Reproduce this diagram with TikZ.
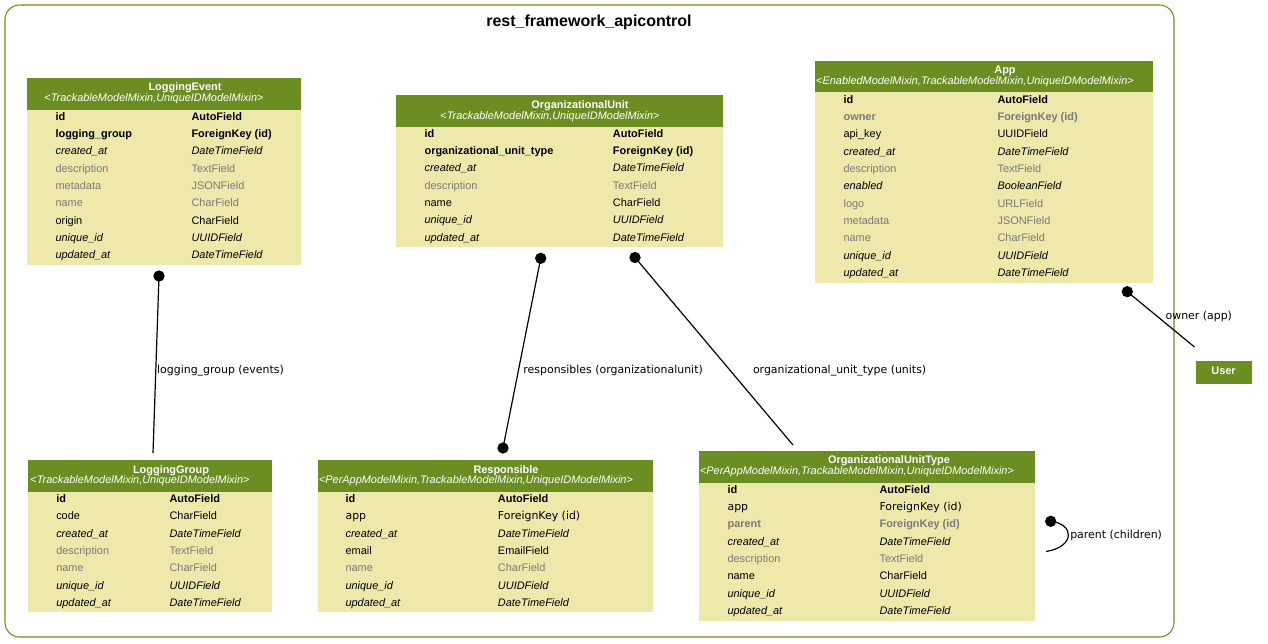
\documentclass[tikz,border=0pt]{standalone}
\usepackage{fontspec}
\setmainfont{Liberation Sans}
\newfontfamily\dejavu{DejaVu Sans}
\usepackage{tikz}
\usetikzlibrary{matrix,fit,positioning}

\definecolor{hdrgreen}{HTML}{6B8E23}
\definecolor{bodyyellow}{HTML}{EEE8AA}
\definecolor{nullgray}{HTML}{7B7B7B}

\newcommand\rowfont{\fontsize{8.2}{9.8}\selectfont}

\begin{document}
\begin{tikzpicture}[x=0.75pt,y=-0.75pt,
		cluster/.style={draw=hdrgreen,line width=0.8pt,rounded corners=11pt,inner sep=0pt},
		tblbody/.style={fill=bodyyellow,inner sep=0pt},
		tblhead/.style={fill=hdrgreen,inner sep=0pt},
		title/.style={text=white,font=\rowfont\bfseries,inner sep=0pt,anchor=base,yshift=-2.9pt},
		mixins/.style={text=white,font=\rowfont,inner sep=0pt,anchor=base,yshift=-2.8pt},
		fields/.style={matrix of nodes,inner sep=0pt,row sep={13pt,between origins},
			nodes={anchor=base west,inner sep=0pt,font=\rowfont}},
		fb/.style={font=\rowfont\bfseries},
		fi/.style={font=\rowfont\itshape},
		fn/.style={text=nullgray},
		fnb/.style={text=nullgray,font=\rowfont\bfseries},
		fdv/.style={font=\rowfont\dejavu},
		dot/.style={circle,fill=black,inner sep=0pt,minimum size=8.5pt},
		rel/.style={draw=black,line width=0.9pt},
		lbl/.style={font=\rowfont\dejavu,inner sep=0pt}]
	\useasboundingbox (0,0) rectangle (1268,643);
	
	\node[cluster,fit={(5,5) (1174,637)}] (cl) {};
	\node[font=\fontsize{12}{14}\selectfont\bfseries] (cl-title) at (589,22) {rest\_framework\_apicontrol};
	
	% LoggingEvent
	\node[tblhead,fit={(27,77.5) (301,109.5)}] (le-head) {};
	\node[tblbody,fit={(27,109.5) (301,264.5)}] (le) {};
	\node[title] (le-title) at (185,87) {LoggingEvent};
	\node[mixins] (le-mix) at (154,97.5) {<\textit{TrackableModelMixin,UniqueIDModelMixin}>};
	\matrix (le-f) [fields,column sep={102pt,between origins},matrix anchor=le-f-1-1.base west] at (55.3,120.3)
	{
		|[fb]| id & |[fb]| AutoField \\
		|[fb]| logging\_group & |[fb]| ForeignKey (id) \\
		|[fi]| created\_at & |[fi]| DateTimeField \\
		|[fn]| description & |[fn]| TextField \\
		|[fn]| metadata & |[fn]| JSONField \\
		|[fn]| name & |[fn]| CharField \\
		origin & CharField \\
		|[fi]| unique\_id & |[fi]| UUIDField \\
		|[fi]| updated\_at & |[fi]| DateTimeField \\};
	
	% OrganizationalUnit
	\node[tblhead,fit={(395.5,95) (722.5,127)}] (ou-head) {};
	\node[tblbody,fit={(395.5,127) (722.5,247.3)}] (ou) {};
	\node[title] (ou-title) at (580,104.5) {OrganizationalUnit};
	\node[mixins] (ou-mix) at (550,115.5) {<\textit{TrackableModelMixin,UniqueIDModelMixin}>};
	\matrix (ou-f) [fields,column sep={141.3pt,between origins},matrix anchor=ou-f-1-1.base west] at (424.3,137)
	{
		|[fb]| id & |[fb]| AutoField \\
		|[fb]| organizational\_unit\_type & |[fb]| ForeignKey (id) \\
		|[fi]| created\_at & |[fi]| DateTimeField \\
		|[fn]| description & |[fn]| TextField \\
		name & CharField \\
		|[fi]| unique\_id & |[fi]| UUIDField \\
		|[fi]| updated\_at & |[fi]| DateTimeField \\};
	
	% App
	\node[tblhead,fit={(814.5,60.5) (1153.3,92)}] (app-head) {};
	\node[tblbody,fit={(814.5,92) (1153.3,282.7)}] (app) {};
	\node[title] (app-title) at (1005,69.5) {App};
	\node[mixins] (app-mix) at (975,80.3) {<\textit{EnabledModelMixin,TrackableModelMixin,UniqueIDModelMixin}>};
	\matrix (app-f) [fields,column sep={115.5pt,between origins},matrix anchor=app-f-1-1.base west] at (843.3,103.2)
	{
		|[fb]| id & |[fb]| AutoField \\
		|[fnb]| owner & |[fnb]| ForeignKey (id) \\
		api\_key & UUIDField \\
		|[fi]| created\_at & |[fi]| DateTimeField \\
		|[fn]| description & |[fn]| TextField \\
		|[fi]| enabled & |[fi]| BooleanField \\
		|[fn]| logo & |[fn]| URLField \\
		|[fn]| metadata & |[fn]| JSONField \\
		|[fn]| name & |[fn]| CharField \\
		|[fi]| unique\_id & |[fi]| UUIDField \\
		|[fi]| updated\_at & |[fi]| DateTimeField \\};
	
	% LoggingGroup
	\node[tblhead,fit={(27.5,459.8) (271.7,491.8)}] (lg-head) {};
	\node[tblbody,fit={(27.5,491.8) (271.7,612.3)}] (lg) {};
	\node[title] (lg-title) at (171,469.5) {LoggingGroup};
	\node[mixins] (lg-mix) at (140,479.8) {<\textit{TrackableModelMixin,UniqueIDModelMixin}>};
	\matrix (lg-f) [fields,column sep={85pt,between origins},matrix anchor=lg-f-1-1.base west] at (56,502.5)
	{
		|[fb]| id & |[fb]| AutoField \\
		code & CharField \\
		|[fi]| created\_at & |[fi]| DateTimeField \\
		|[fn]| description & |[fn]| TextField \\
		|[fn]| name & |[fn]| CharField \\
		|[fi]| unique\_id & |[fi]| UUIDField \\
		|[fi]| updated\_at & |[fi]| DateTimeField \\};
	
	% Responsible
	\node[tblhead,fit={(317.5,459.8) (653.3,491.8)}] (rs-head) {};
	\node[tblbody,fit={(317.5,491.8) (653.3,612.3)}] (rs) {};
	\node[title] (rs-title) at (506,469.5) {Responsible};
	\node[mixins] (rs-mix) at (476,479.8) {<\textit{PerAppModelMixin,TrackableModelMixin,UniqueIDModelMixin}>};
	\matrix (rs-f) [fields,column sep={114.3pt,between origins},matrix anchor=rs-f-1-1.base west] at (345.3,502.5)
	{
		|[fb]| id & |[fb]| AutoField \\
		|[fdv]| app & |[fdv]| ForeignKey (id) \\
		|[fi]| created\_at & |[fi]| DateTimeField \\
		email & EmailField \\
		|[fn]| name & |[fn]| CharField \\
		|[fi]| unique\_id & |[fi]| UUIDField \\
		|[fi]| updated\_at & |[fi]| DateTimeField \\};
	
	% OrganizationalUnitType
	\node[tblhead,fit={(698.5,450.8) (1035,482.5)}] (out-head) {};
	\node[tblbody,fit={(698.5,482.5) (1035,620.7)}] (out) {};
	\node[title] (out-title) at (889,459.7) {OrganizationalUnitType};
	\node[mixins] (out-mix) at (857,470.3) {<\textit{PerAppModelMixin,TrackableModelMixin,UniqueIDModelMixin}>};
	\matrix (out-f) [fields,column sep={114pt,between origins},matrix anchor=out-f-1-1.base west] at (727.3,493.2)
	{
		|[fb]| id & |[fb]| AutoField \\
		|[fdv]| app & |[fdv]| ForeignKey (id) \\
		|[fnb]| parent & |[fnb]| ForeignKey (id) \\
		|[fi]| created\_at & |[fi]| DateTimeField \\
		|[fn]| description & |[fn]| TextField \\
		name & CharField \\
		|[fi]| unique\_id & |[fi]| UUIDField \\
		|[fi]| updated\_at & |[fi]| DateTimeField \\};
	
	% User
	\node[tblhead,fit={(1195.7,360.7) (1251.7,383.7)}] (user) {};
	\node[title] (user-title) at (1223.5,370.5) {User};
	
	% relations
	\node[dot] (le-dot) at (159,276) {};
	\coordinate (lg-end) at (153,453);
	\node[dot] (ou-dot1) at (540.7,258.3) {};
	\node[dot] (rs-dot) at (503,448) {};
	\node[dot] (ou-dot2) at (635,257.5) {};
	\coordinate (out-end) at (793,445);
	\node[dot] (app-dot) at (1127.3,291.7) {};
	\coordinate (user-end) at (1194.5,347);
	\node[dot] (out-dot) at (1050.7,521.3) {};
	\coordinate (out-loop) at (1046,551.5);
	
	\path[rel]
		(le-dot.center) edge node[lbl,pos=.537,anchor=west,xshift=0.6pt] {logging\_group (events)} (lg-end)
		(ou-dot1.center) edge node[lbl,pos=.593,anchor=west,xshift=3.4pt] {responsibles (organizationalunit)} (rs-dot.center)
		(ou-dot2.center) edge node[lbl,pos=.604,anchor=west,xshift=16.5pt] {organizational\_unit\_type (units)} (out-end)
		(app-dot.center) edge node[lbl,pos=.446,anchor=west,xshift=5.8pt] {owner (app)} (user-end);
	\draw[rel] (out-dot.center) .. controls (1075,524) and (1075,547) .. (out-loop)
		node[lbl,pos=.5,anchor=west,xshift=1pt] {parent (children)};
	
\end{tikzpicture}
\end{document}
